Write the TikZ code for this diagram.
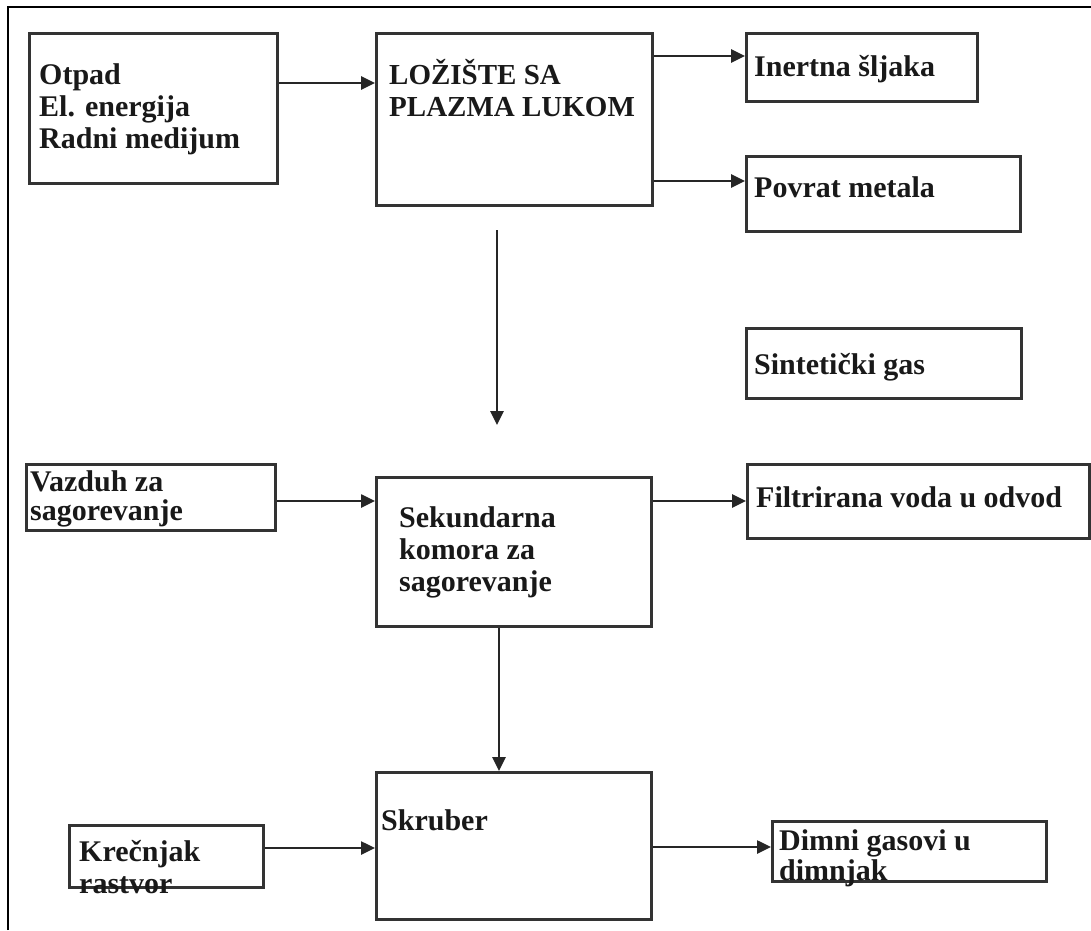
\documentclass[tikz,border=0pt]{standalone}
\usepackage{fontspec}
\setmainfont{Liberation Serif}
\usetikzlibrary{arrows.meta}
\newcommand{\mylines}[1]{\begin{tabular}[t]{@{}l@{}}#1\end{tabular}}
\begin{document}
\begin{tikzpicture}[x=1pt,y=-1pt,
  box/.style={draw=black!80, line width=3pt, rectangle, inner sep=0pt, anchor=north west},
  txt/.style={anchor=base west, inner sep=0pt, text=black!90, font=\bfseries\fontsize{30}{32}\selectfont},
  arr/.style={line width=2.6pt, draw=black!85, -{Triangle[length=14pt,width=13pt]}},
  frame/.style={line width=2.2pt, draw=black}]
\useasboundingbox (0,0) rectangle (1091,930);
% outer frame
\coordinate (f1) at (8,930);
\coordinate (f2) at (8,7);
\coordinate (f3) at (1091,7);
\draw[frame] (f1) -- (f2) -- (f3);
% boxes
\node[box, minimum width=248pt, minimum height=150pt] (A) at (28,32) {};
\node[box, minimum width=276pt, minimum height=172pt] (B) at (375,32) {};
\node[box, minimum width=231pt, minimum height=68pt] (I) at (745,32) {};
\node[box, minimum width=274pt, minimum height=75pt] (P) at (745,155) {};
\node[box, minimum width=275pt, minimum height=70pt] (S) at (745,327) {};
\node[box, minimum width=249pt, minimum height=66pt] (V) at (25,463) {};
\node[box, minimum width=275pt, minimum height=149pt] (K) at (375,476) {};
\node[box, minimum width=342pt, minimum height=74pt] (F) at (746,463) {};
\node[box, minimum width=275pt, minimum height=147pt] (R) at (375,771) {};
\node[box, minimum width=194pt, minimum height=62pt] (C) at (68,824) {};
\node[box, minimum width=274pt, minimum height=60pt] (D) at (771,820) {};
% texts
\node[txt] (tA) at (39,84) {\mylines{Otpad\\El. energija\\Radni medijum}};
\node[txt, font=\bfseries\fontsize{29}{32}\selectfont] (tB) at (389,84) {\mylines{LOŽIŠTE SA\\PLAZMA LUKOM}};
\node[txt] (tI) at (754,76) {Inertna šljaka};
\node[txt] (tP) at (754,197) {Povrat metala};
\node[txt] (tS) at (754,374) {Sintetički gas};
\node[txt] (tV) at (30,491) {\mylines{Vazduh za\\[-3pt]sagorevanje}};
\node[txt] (tK) at (399,527) {\mylines{Sekundarna\\komora za\\sagorevanje}};
\node[txt] (tF) at (756,507) {Filtrirana voda u odvod};
\node[txt] (tR) at (381,830) {Skruber};
\node[txt] (tC) at (79,861) {\mylines{Krečnjak\\rastvor}};
\node[txt] (tD) at (779,850) {\mylines{Dimni gasovi u\\[-2pt]dimnjak}};
% connectors
\draw[arr] (A.east |- 0,83) -- (B.west |- 0,83);
\draw[arr] (B.east |- 0,56) -- (I.west |- 0,56);
\draw[arr] (B.east |- 0,181) -- (P.west |- 0,181);
\coordinate (v1) at (497,230);
\coordinate (v2) at (497,425);
\draw[arr] (v1) -- (v2);
\draw[arr] (V.east |- 0,501) -- (K.west |- 0,501);
\draw[arr] (K.east |- 0,501) -- (F.west |- 0,501);
\draw[arr] (K.south -| 499,0) -- (R.north -| 499,0);
\draw[arr] (C.east |- 0,848) -- (R.west |- 0,848);
\draw[arr] (R.east |- 0,847) -- (D.west |- 0,847);
\end{tikzpicture}
\end{document}
